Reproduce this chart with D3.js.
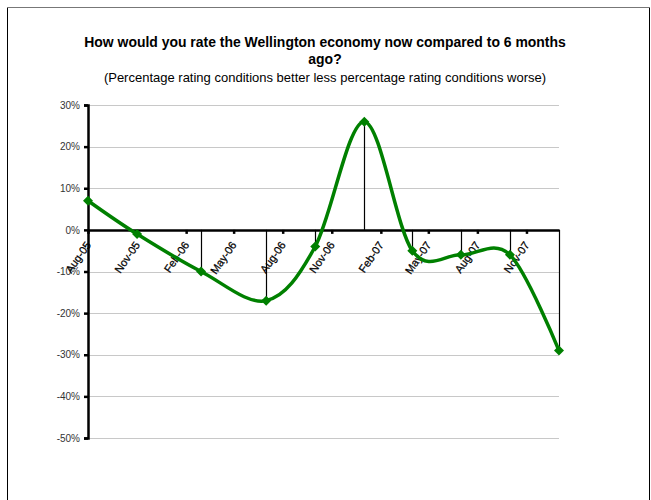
<!DOCTYPE html>
<html>
<head>
<meta charset="utf-8">
<script src="https://cdn.jsdelivr.net/npm/d3@7"></script>
<style>
  body { margin: 0; background: #fff; }
  svg { display: block; }
</style>
</head>
<body>
<svg id="chart" width="651" height="500"></svg>
<script>
// data
const pointDates = ['Aug-05', 'Nov-05', 'Mar-06', 'Jul-06', 'Oct-06', 'Jan-07', 'Apr-07', 'Jul-07', 'Oct-07', 'Jan-08'];
const netRating = [7, -1, -10, -17, -4, 26, -5, -6, -6, -29];
const tickLabels = ['Aug-05', 'Nov-05', 'Feb-06', 'May-06', 'Aug-06', 'Nov-06', 'Feb-07', 'May-07', 'Aug-07', 'Nov-07'];
const yTicks = [30, 20, 10, 0, -10, -20, -30, -40, -50];

const width = 651;
const height = 500;
const lineColor = '#008000';
const gridColor = '#c8c8c8';
const font = '"Liberation Sans", Arial, sans-serif';

const parse = d3.timeParse('%b-%y');
const points = pointDates.map((d, i) => ({ date: parse(d), value: netRating[i] }));

const svg = d3.select('#chart');

// chart frame
svg.append('rect')
  .attr('x', 7.5).attr('y', 7.5)
  .attr('width', 642).attr('height', 520)
  .attr('fill', 'none')
  .attr('stroke', '#000');
svg.append('line')
  .attr('x1', 7).attr('x2', 650).attr('y1', 7.5).attr('y2', 7.5)
  .attr('stroke', '#777');

const x = d3.scaleTime()
  .domain([parse('Aug-05'), parse('Jan-08')])
  .range([88, 559]);
const y = d3.scaleLinear().domain([-50, 30]).range([438, 105]);

// title (narrowed a bit, the original uses a condensed face)
const title = svg.append('g').attr('font-family', font).attr('text-anchor', 'middle');
title.append('text')
  .attr('transform', 'translate(325,47) scale(0.9,1)')
  .attr('font-size', 15.5).attr('font-weight', 'bold')
  .text('How would you rate the Wellington economy now compared to 6 months');
title.append('text')
  .attr('transform', 'translate(325,64) scale(0.9,1)')
  .attr('font-size', 15.5).attr('font-weight', 'bold')
  .text('ago?');
title.append('text')
  .attr('x', 325).attr('y', 82)
  .attr('font-size', 13)
  .text('(Percentage rating conditions better less percentage rating conditions worse)');

// gridlines
svg.append('g')
  .selectAll('line')
  .data(yTicks)
  .enter()
  .append('line')
  .attr('x1', x.range()[0]).attr('x2', x.range()[1])
  .attr('y1', (d) => Math.round(y(d)) + 0.5)
  .attr('y2', (d) => Math.round(y(d)) + 0.5)
  .attr('stroke', gridColor);

// y axis
const yAxis = svg.append('g')
  .attr('transform', `translate(${x.range()[0]},0)`)
  .call(d3.axisLeft(y).tickValues(yTicks).tickSize(4).tickPadding(4).tickFormat((d) => d + '%'));
yAxis.select('.domain').attr('stroke', '#000').attr('stroke-width', 2.5);
yAxis.selectAll('.tick line').attr('stroke', '#000').attr('stroke-width', 2.5);
yAxis.selectAll('text')
  .attr('font-family', font)
  .attr('font-size', 10)
  .attr('fill', '#333');

// drop lines
svg.append('g')
  .selectAll('line')
  .data(points.slice(1))
  .enter()
  .append('line')
  .attr('x1', (d) => Math.round(x(d.date)) + 0.5)
  .attr('x2', (d) => Math.round(x(d.date)) + 0.5)
  .attr('y1', y(0))
  .attr('y2', (d) => y(d.value))
  .attr('stroke', '#000')
  .attr('stroke-width', 1.2);

// x axis at 0%
const xAxis = svg.append('g')
  .attr('transform', `translate(0,${y(0)})`)
  .call(d3.axisBottom(x).tickValues(tickLabels.map(parse)).tickSize(4).tickSizeOuter(0).tickFormat(d3.timeFormat('%b-%y')));
xAxis.select('.domain').attr('stroke', '#000').attr('stroke-width', 2.5);
xAxis.selectAll('.tick line').attr('stroke', '#000').attr('stroke-width', 2.5);
xAxis.selectAll('text')
  .attr('font-family', font)
  .attr('font-size', 11)
  .attr('fill', '#000')
  .attr('stroke', '#000')
  .attr('stroke-width', 0.25)
  .attr('text-anchor', 'end')
  .attr('dy', null)
  .attr('y', 0)
  .attr('transform', 'translate(3,15) rotate(-55)');

// smoothed line
const line = d3.line()
  .x((d) => x(d.date))
  .y((d) => y(d.value))
  .curve(d3.curveCardinal.tension(0));

svg.append('path')
  .datum(points)
  .attr('d', line)
  .attr('fill', 'none')
  .attr('stroke', lineColor)
  .attr('stroke-width', 3.5);

// markers
svg.append('g')
  .selectAll('path')
  .data(points)
  .enter()
  .append('path')
  .attr('d', d3.symbol().type(d3.symbolSquare).size(50))
  .attr('transform', (d) => `translate(${x(d.date)},${y(d.value)}) rotate(45)`)
  .attr('fill', lineColor);
</script>
</body>
</html>
